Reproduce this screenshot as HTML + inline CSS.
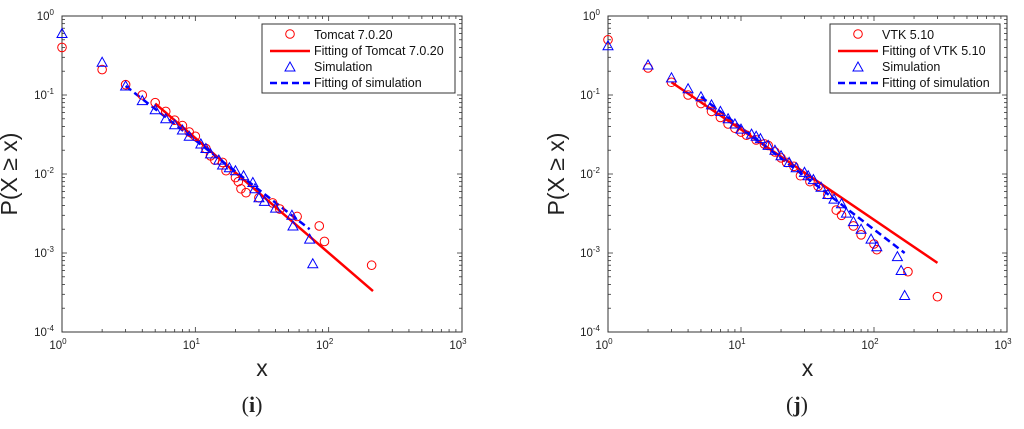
<!DOCTYPE html>
<html><head><meta charset="utf-8"><style>
body{margin:0;background:#fff;width:1024px;height:424px;overflow:hidden}
svg{font-family:"Liberation Sans",sans-serif}
</style></head><body>
<svg id="svg" width="1024" height="424" xmlns="http://www.w3.org/2000/svg"></svg>
<script>
const tomcatX=[1,2,3,4,5,6,7,8,9,10,12,13,14,16,17,20,21,22,24,30,38,43,58,85,93,210];
const tomcatY=[0.4,0.21,0.135,0.1,0.08,0.062,0.048,0.041,0.034,0.03,0.021,0.017,0.015,0.014,0.011,0.009,0.008,0.0065,0.0058,0.005,0.0043,0.0036,0.0029,0.0022,0.0014,0.0007];
const simLX=[1,2,3,4,5,6,7,8,9,11,12,13,15,16,18,20,23,27,28,30,33,40,53,54,72,76];
const simLY=[0.6,0.26,0.13,0.085,0.065,0.05,0.042,0.036,0.03,0.024,0.021,0.018,0.015,0.013,0.012,0.011,0.0095,0.0078,0.0065,0.005,0.0045,0.0037,0.003,0.0022,0.0015,0.00073];
const fitTomcatX=[5,215];const fitTomcatY=[0.078,0.00033];
const fitSimLX=[3,72];const fitSimLY=[0.13,0.002];
const vtkX=[1,2,3,4,5,6,7,8,9,10,11,13,15,16,18,20,22,25,28,33,38,45,52,57,70,80,100,105,180,300];
const vtkY=[0.5,0.22,0.145,0.1,0.078,0.062,0.052,0.043,0.038,0.034,0.031,0.027,0.024,0.023,0.019,0.016,0.014,0.0125,0.0095,0.008,0.007,0.0055,0.0035,0.003,0.0022,0.0017,0.0013,0.0011,0.00058,0.00028];
const simRX=[1,2,3,4,5,6,7,8,9,10,12,13,14,16,18,20,23,26,30,32,35,40,45,50,57,62,70,80,95,105,150,160,170];
const simRY=[0.42,0.24,0.165,0.12,0.095,0.075,0.062,0.05,0.043,0.037,0.032,0.03,0.028,0.023,0.02,0.017,0.014,0.012,0.0105,0.0095,0.0085,0.0068,0.0055,0.0048,0.0042,0.0032,0.0025,0.002,0.0015,0.0012,0.0009,0.0006,0.00029];
const fitVtkX=[3,300];const fitVtkY=[0.145,0.00075];
const fitSimRX=[5,170];const fitSimRY=[0.095,0.001];
const xTickExps=[0,1,2,3];const yTickExps=[0,-1,-2,-3,-4];

const svg=document.getElementById('svg');const NS='http://www.w3.org/2000/svg';
function mk(tag,attrs,parent,text){const e=document.createElementNS(NS,tag);for(const k in attrs)e.setAttribute(k,attrs[k]);if(text!==undefined)e.textContent=text;(parent||svg).appendChild(e);return e;}

function panel(id,x0,x1,y0,y1,circX,circY,triX,triY,fRX,fRY,fBX,fBY,labels,lg,yl,cap,capX){
  const g=mk('g',{});
  
  const sx=v=>x0+(Math.log10(v))/3*(x1-x0);
  const sy=v=>y0+(-Math.log10(v))/4*(y1-y0);
  const fr=mk('rect',{x:x0,y:y0,width:x1-x0,height:y1-y0,fill:'none',stroke:'#333','stroke-width':1},g);
  
  for(let d=0;d<3;d++)for(let m=1;m<=10;m++){const v=Math.pow(10,d)*m;if(m==1&&d>0)continue;const X=sx(v);const L=(m==1||m==10)?5:3;
    mk('line',{x1:X,y1:y1,x2:X,y2:y1-L,stroke:'#333','stroke-width':0.8},g);mk('line',{x1:X,y1:y0,x2:X,y2:y0+L,stroke:'#333','stroke-width':0.8},g);}
  for(let d=-4;d<0;d++)for(let m=1;m<=10;m++){const v=Math.pow(10,d)*m;if(m==1&&d>-4)continue;const Y=sy(v);const L=(m==1||m==10)?5:3;
    mk('line',{x1:x0,y1:Y,x2:x0+L,y2:Y,stroke:'#333','stroke-width':0.8},g);mk('line',{x1:x1,y1:Y,x2:x1-L,y2:Y,stroke:'#333','stroke-width':0.8},g);}
  xTickExps.forEach(e=>{const t=mk('text',{x:sx(Math.pow(10,e))-4,y:y1+17,'font-size':11.5,'text-anchor':'middle',fill:'#222'},g);
    
    mk('tspan',{},t,'10');mk('tspan',{dy:-5,'font-size':8},t,String(e));});
  yTickExps.forEach(e=>{const t=mk('text',{x:x0-8,y:sy(Math.pow(10,e))+4,'font-size':11.5,'text-anchor':'end',fill:'#222'},g);
    
    mk('tspan',{},t,'10');mk('tspan',{dy:-5,'font-size':8},t,String(e));});
  const xl=mk('text',{x:(x0+x1)/2,y:y1+44,'font-size':23,'text-anchor':'middle',fill:'#222'},g,'x');
  
  const ylt=mk('text',{x:yl,y:(y0+y1)/2,'font-size':23,'text-anchor':'middle',fill:'#222',transform:`rotate(-90 ${yl} ${(y0+y1)/2})`},g,'P(X ≥ x)');
  
  const c=mk('text',{x:capX,y:412,'font-size':22,'text-anchor':'middle','font-family':'Liberation Serif, serif',fill:'#222'},g);
  
  mk('tspan',{},c,'(');mk('tspan',{'font-weight':'bold'},c,cap);mk('tspan',{},c,')');
  const l1=mk('line',{x1:sx(fRX[0]),y1:sy(fRY[0]),x2:sx(fRX[1]),y2:sy(fRY[1]),stroke:'#f00','stroke-width':2.5},g);
  
  const l2=mk('line',{x1:sx(fBX[0]),y1:sy(fBY[0]),x2:sx(fBX[1]),y2:sy(fBY[1]),stroke:'#00f','stroke-width':2.5,'stroke-dasharray':'7 4'},g);
  
  circX.forEach((v,i)=>{const p=mk('circle',{cx:sx(v),cy:sy(circY[i]),r:4.3,fill:'none',stroke:'#f00','stroke-width':1},g);
    });
  const tri=(X,Y)=>`${X},${Y-5} ${X-5},${Y+4} ${X+5},${Y+4}`;
  triX.forEach((v,i)=>{const p=mk('polygon',{points:tri(sx(v),sy(triY[i])),fill:'none',stroke:'#00f','stroke-width':1},g);
    });
  const lgG=mk('g',{},g);
  mk('rect',{x:lg[0],y:24,width:lg[1]-lg[0],height:69,fill:'#fff',stroke:'#333','stroke-width':1},lgG);
  const sxm=lg[0]+28,tx=lg[0]+52;
  mk('circle',{cx:sxm,cy:34,r:4.3,fill:'none',stroke:'#f00'},lgG);
  mk('line',{x1:lg[0]+8,y1:51,x2:lg[0]+48,y2:51,stroke:'#f00','stroke-width':2.5},lgG);
  mk('polygon',{points:tri(sxm,67),fill:'none',stroke:'#00f'},lgG);
  mk('line',{x1:lg[0]+8,y1:83,x2:lg[0]+48,y2:83,stroke:'#00f','stroke-width':2.5,'stroke-dasharray':'7 4'},lgG);
  labels.forEach((s,i)=>{const t=mk('text',{x:tx,y:39+i*16,'font-size':12.5,fill:'#111'},lgG,s);
    });
}
panel('chart-tomcat',62,462,16,332,tomcatX,tomcatY,simLX,simLY,fitTomcatX,fitTomcatY,fitSimLX,fitSimLY,
 ['Tomcat 7.0.20','Fitting of Tomcat 7.0.20','Simulation','Fitting of simulation'],[262,455],17,'i',252);
panel('chart-vtk',608,1007,16,332,vtkX,vtkY,simRX,simRY,fitVtkX,fitVtkY,fitSimRX,fitSimRY,
 ['VTK 5.10','Fitting of VTK 5.10','Simulation','Fitting of simulation'],[830,1000],564,'j',797);
</script>
</body></html>
